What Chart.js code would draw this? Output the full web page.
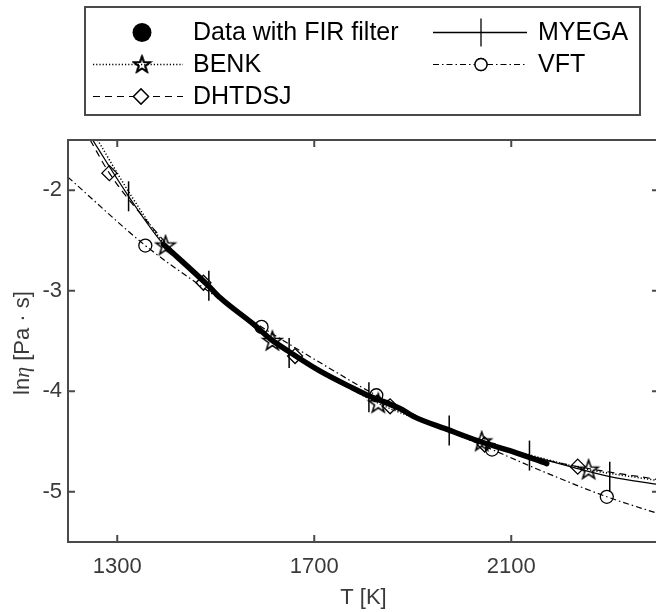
<!DOCTYPE html>
<html>
<head>
<meta charset="utf-8">
<script src="https://cdn.jsdelivr.net/npm/chart.js@4.4.0/dist/chart.umd.min.js"></script>
<style>
  html, body { margin: 0; padding: 0; background: #fff; overflow: hidden; }
  #wrap { width: 656px; height: 612px; overflow: hidden; }
</style>
</head>
<body>
<div id="wrap"><canvas id="viscChart" width="680" height="612"></canvas></div>
<script>
// values: T [K] and ln(eta)
const xTicks = [1300, 1700, 2100];
const yTicks = [-2, -3, -4, -5];

const firT = [1394, 1485, 1509, 1576, 1611, 1647, 1712, 1779, 1813, 1874, 1901, 1970, 2036, 2103, 2172];
const firV = [-2.54, -2.95, -3.07, -3.33, -3.48, -3.60, -3.80, -3.97, -4.05, -4.17, -4.25, -4.38, -4.50, -4.60, -4.72];

const myegaT = [1250, 1323, 1394, 1486, 1550, 1649, 1712, 1811, 1901, 1974, 2050, 2137, 2220, 2300, 2400];
const myegaV = [-1.50, -2.06, -2.54, -2.95, -3.22, -3.62, -3.80, -4.06, -4.25, -4.39, -4.52, -4.64, -4.75, -4.85, -4.93];
const myegaMarks = [1323, 1486, 1649, 1811, 1974, 2137, 2300];

const benkT = [1260, 1329, 1398, 1500, 1615, 1720, 1830, 1940, 2040, 2150, 2257, 2400];
const benkV = [-1.50, -2.06, -2.55, -3.02, -3.50, -3.82, -4.12, -4.33, -4.50, -4.65, -4.78, -4.89];
const benkMarks = [1398, 1615, 1830, 2040, 2257];

const dhT = [1245, 1284, 1380, 1475, 1565, 1661, 1760, 1854, 1950, 2046, 2140, 2235, 2400];
const dhV = [-1.50, -1.83, -2.42, -2.92, -3.30, -3.65, -3.94, -4.15, -4.36, -4.53, -4.65, -4.75, -4.88];
const dhMarks = [1284, 1475, 1661, 1854, 2046, 2235];

const vftT = [1200, 1357, 1469, 1593, 1710, 1826, 1945, 2061, 2180, 2294, 2400];
const vftV = [-1.87, -2.55, -2.95, -3.36, -3.71, -4.04, -4.33, -4.58, -4.83, -5.05, -5.22];
const vftMarks = [1357, 1593, 1826, 2061, 2294];

const axisColor = '#4a4a4a';
const textColor = '#3a3a3a';

function zip(xs, ys) {
    return xs.map((x, i) => ({ x: x, y: ys[i] }));
}

function starImage(r) {
    const s = Math.ceil(r * 2 + 4);
    const c = document.createElement('canvas');
    c.width = s; c.height = s;
    const g = c.getContext('2d');
    g.translate(s / 2, s / 2 + 0.5);
    g.beginPath();
    for (let i = 0; i < 10; i++) {
        const rr = i % 2 ? r * 0.4 : r;
        const a = -Math.PI / 2 + i * Math.PI / 5;
        g.lineTo(rr * Math.cos(a), rr * Math.sin(a));
    }
    g.closePath();
    g.lineWidth = 1.6;
    g.lineJoin = 'miter';
    g.strokeStyle = '#000';
    g.stroke();
    return c;
}

const plotStar = starImage(10);
const legendStar = starImage(8.5);

function marked(list, r) {
    return ctx => (ctx.raw && list.includes(ctx.raw.x)) ? r : 0;
}

Chart.defaults.font.family = '"Liberation Sans", Arial, sans-serif';

const datasets = [
    {
        label: 'Data with FIR filter',
        data: zip(firT, firV),
        borderColor: '#000',
        borderWidth: 5.5,
        borderCapStyle: 'round',
        pointRadius: 0,
        cubicInterpolationMode: 'monotone'
    },
    {
        label: 'MYEGA',
        data: zip(myegaT, myegaV),
        borderColor: '#000',
        borderWidth: 1.3,
        pointStyle: 'line',
        rotation: 90,
        pointRadius: marked(myegaMarks, 15),
        pointBorderColor: '#000',
        pointBorderWidth: 1.5,
        cubicInterpolationMode: 'monotone'
    },
    {
        label: 'BENK',
        data: zip(benkT, benkV),
        borderColor: '#000',
        borderWidth: 1.5,
        borderDash: [1.2, 2],
        pointStyle: plotStar,
        pointRadius: marked(benkMarks, 10),
        cubicInterpolationMode: 'monotone'
    },
    {
        label: 'VFT',
        data: zip(vftT, vftV),
        borderColor: '#000',
        borderWidth: 1.2,
        borderDash: [6, 3, 1.5, 3],
        pointStyle: 'circle',
        pointRadius: marked(vftMarks, 6.5),
        pointBorderColor: '#000',
        pointBackgroundColor: 'rgba(0,0,0,0)',
        pointBorderWidth: 1.3,
        cubicInterpolationMode: 'monotone'
    },
    {
        label: 'DHTDSJ',
        data: zip(dhT, dhV),
        borderColor: '#000',
        borderWidth: 1.2,
        borderDash: [7, 5],
        pointStyle: 'rectRot',
        pointRadius: marked(dhMarks, 7.5),
        pointBorderColor: '#000',
        pointBackgroundColor: 'rgba(0,0,0,0)',
        pointBorderWidth: 1.3,
        cubicInterpolationMode: 'monotone'
    }
];

// box round the plot with inward ticks on all four sides
const framePlugin = {
    id: 'frame',
    afterDatasetsDraw(chart) {
        const { ctx, chartArea: a, scales: { x, y } } = chart;
        ctx.save();
        ctx.strokeStyle = axisColor;
        ctx.lineWidth = 2;
        ctx.setLineDash([]);
        ctx.beginPath();
        x.ticks.forEach(t => {
            const px = x.getPixelForValue(t.value);
            ctx.moveTo(px, a.bottom); ctx.lineTo(px, a.bottom - 7);
            ctx.moveTo(px, a.top); ctx.lineTo(px, a.top + 7);
        });
        y.ticks.forEach(t => {
            const py = y.getPixelForValue(t.value);
            ctx.moveTo(a.left, py); ctx.lineTo(a.left + 7, py);
            ctx.moveTo(a.right, py); ctx.lineTo(a.right - 7, py);
        });
        ctx.stroke();
        ctx.strokeRect(a.left, a.top, a.right - a.left, a.bottom - a.top);
        ctx.restore();
    }
};

// y title with italic eta
const yTitlePlugin = {
    id: 'yTitle',
    afterDraw(chart) {
        const ctx = chart.ctx;
        const parts = [
            ['ln', '22px "Liberation Sans"'],
            ['\u03B7', 'italic 22px "Liberation Serif"'],
            [' [Pa \u00B7 s]', '22px "Liberation Sans"']
        ];
        ctx.save();
        ctx.translate(23, 343);
        ctx.rotate(-Math.PI / 2);
        ctx.fillStyle = textColor;
        ctx.textBaseline = 'middle';
        let total = 0;
        parts.forEach(p => { ctx.font = p[1]; total += ctx.measureText(p[0]).width; });
        let xPos = -total / 2;
        parts.forEach(p => {
            ctx.font = p[1];
            ctx.fillText(p[0], xPos, 0);
            xPos += ctx.measureText(p[0]).width;
        });
        ctx.restore();
    }
};

// legend box above the plot, two columns
const legendSpots = [
    { mx: 142, y: 32.5, x0: 93, x1: 183, tx: 193 },
    { mx: 481, y: 32.5, x0: 433, x1: 527, tx: 538 },
    { mx: 142, y: 64.5, x0: 93, x1: 183, tx: 193 },
    { mx: 481, y: 64.5, x0: 433, x1: 527, tx: 538 },
    { mx: 141, y: 96.5, x0: 93, x1: 183, tx: 193 }
];

const legendPlugin = {
    id: 'boxLegend',
    afterDraw(chart) {
        const ctx = chart.ctx;
        ctx.save();
        ctx.fillStyle = '#fff';
        ctx.fillRect(85, 7, 555, 108);
        ctx.strokeStyle = axisColor;
        ctx.lineWidth = 2;
        ctx.strokeRect(85, 7, 555, 108);

        chart.data.datasets.forEach((ds, i) => {
            const s = legendSpots[i];
            ctx.strokeStyle = '#000';
            ctx.fillStyle = '#000';
            if (i > 0) {
                ctx.lineWidth = ds.borderWidth;
                ctx.setLineDash(ds.borderDash || []);
                ctx.beginPath();
                ctx.moveTo(s.x0, s.y);
                ctx.lineTo(s.x1, s.y);
                ctx.stroke();
                ctx.setLineDash([]);
            }
            if (i === 0) {
                ctx.beginPath();
                ctx.arc(s.mx, s.y, 9.5, 0, Math.PI * 2);
                ctx.fill();
            } else {
                const style = ds.pointStyle === plotStar ? legendStar : ds.pointStyle;
                const r = { MYEGA: 14, VFT: 6, DHTDSJ: 7.5 }[ds.label] || 8;
                ctx.fillStyle = '#fff';
                ctx.lineWidth = 1.3;
                if (style !== 'line') {
                    Chart.helpers.drawPoint(ctx, { pointStyle: style, radius: r, rotation: 0, borderWidth: 1.3 }, s.mx, s.y);
                    if (typeof style === 'string') ctx.fill();
                }
                Chart.helpers.drawPoint(ctx, { pointStyle: style, radius: r, rotation: ds.rotation || 0, borderWidth: 1.3 }, s.mx, s.y);
            }
            ctx.fillStyle = '#000';
            ctx.font = '25px "Liberation Sans"';
            ctx.textBaseline = 'middle';
            ctx.textAlign = 'left';
            ctx.fillText(ds.label, s.tx, s.y + 1);
        });
        ctx.restore();
    }
};

new Chart(document.getElementById('viscChart').getContext('2d'), {
    type: 'line',
    data: { datasets: datasets },
    options: {
        responsive: false,
        animation: false,
        events: [],
        layout: { padding: { left: 0, right: 21, top: 140, bottom: 0 } },
        scales: {
            x: {
                type: 'linear',
                min: 1200,
                max: 2400,
                afterBuildTicks: s => { s.ticks = xTicks.map(v => ({ value: v })); },
                afterFit: s => { s.height = 70; },
                grid: { display: false, drawTicks: false },
                border: { display: false },
                ticks: {
                    color: textColor,
                    font: { size: 22 },
                    padding: 12,
                    maxRotation: 0,
                    callback: v => String(v)
                },
                title: {
                    display: true,
                    text: 'T [K]',
                    color: textColor,
                    font: { size: 22 },
                    padding: { top: 0, bottom: 1 }
                }
            },
            y: {
                type: 'linear',
                min: -5.5,
                max: -1.5,
                afterBuildTicks: s => { s.ticks = yTicks.map(v => ({ value: v })); },
                afterFit: s => { s.width = 68; },
                grid: { display: false, drawTicks: false },
                border: { display: false },
                ticks: {
                    color: textColor,
                    font: { size: 22 },
                    padding: 6,
                    callback: v => String(v)
                }
            }
        },
        plugins: {
            legend: { display: false },
            tooltip: { enabled: false }
        }
    },
    plugins: [framePlugin, yTitlePlugin, legendPlugin]
});
</script>
</body>
</html>
